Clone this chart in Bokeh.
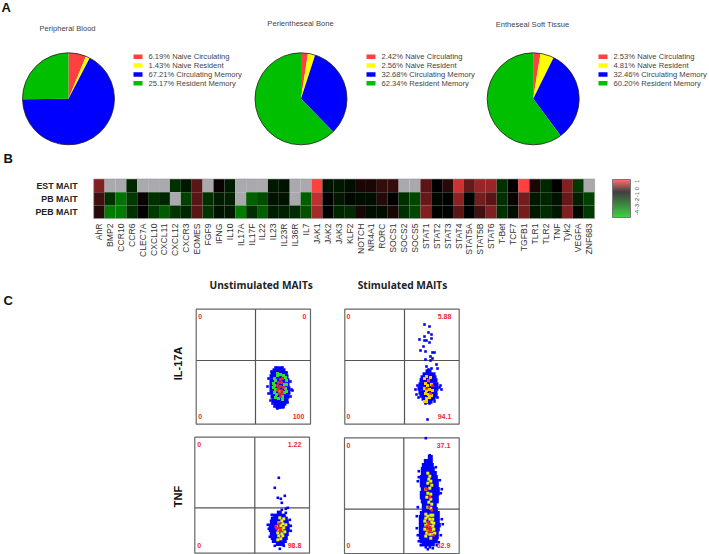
import math
import numpy as np
from bokeh.plotting import figure
from bokeh.models import Range1d, LinearColorMapper, ColumnDataSource
from bokeh.core.properties import value
from bokeh.embed import file_html
from bokeh.resources import INLINE

# ---- Panel A
subsets = ["Naive Circulating", "Naive Resident", "Circulating Memory", "Resident Memory"]
pie_colors = ["#ff4040", "#ffff00", "#0000ff", "#00bf00"]
pb_pct = [6.19, 1.43, 67.21, 25.17]
bone_pct = [2.42, 2.56, 32.68, 62.34]
soft_pct = [2.53, 4.81, 32.46, 60.20]
pie_titles = ["Peripheral Blood", "Perientheseal Bone", "Entheseal Soft Tissue"]

# ---- Panel B
genes = ["AhR","BMP2","CCR10","CCR6","CLEC7A","CXCL10","CXCL11","CXCL12","CXCR3","EOMES","FGF9","IFNG","IL10",
         "IL17A","IL17F","IL22","IL23","IL23R","IL36R","IL7","JAK1","JAK2","JAK3","KLF2","NOTCH","NR4A1","RORC",
         "SOCS1","SOCS2","SOCS5","STAT1","STAT2","STAT3","STAT4","STAT5A","STAT5B","STAT6","T-Bet","TCF7","TGFB1",
         "TLR1","TLR2","TNF","Tyk2","VEGFA","ZNF683"]
n = float("nan")
est_mait = [1.0,n,n,-.8,n,n,n,-1,-.5,.7,n,.1,-.6,n,n,n,-.5,-.4,n,n,2,-.4,-.5,-.3,.2,.2,.4,.4,n,n,.7,0,.3,1.6,.8,1.2,1.2,-1,0,2,.2,-.8,0,1,-1.2,n]
pb_mait = [.5,-1,-2.4,-1.2,.1,-1,-.8,n,-1.4,.7,-1,-.6,-.7,n,-2,-1.6,-.4,-.4,n,-2,1.5,0,-.5,-.2,-.3,-.3,.3,0,-1,-1.5,.8,-.2,-.1,1.1,-.1,.9,.7,-1,.1,.9,-.5,-.8,-.4,.8,-.7,-1.4]
peb_mait = [.3,-2.6,-2.6,-1,0,-1.2,-1.9,-1.1,-.8,.7,-1.1,-.4,-.5,-2.6,-1,-2,-.6,-.7,-.9,-1.7,1.3,-.1,-.8,-.9,.2,-.3,-.3,.2,-1,-1.5,1,-.1,-.1,.7,0,.5,1,-1,-.3,.9,-.5,-.9,-.5,1,-.2,-1.2]
heat_rows = ["EST MAIT", "PB MAIT", "PEB MAIT"]
scale_ticks = ["1", "0", "-1", "-2", "-3", "-4"]

# ---- Panel C: events as offsets (dx, dy) from each gate crossing; spans = (dy, dx0, dx1)
us17_span = [(8,20,27),(10,17,30),(13,15,32),(16,14,33),(20,14,34),(24,14,34),(28,14,35),(32,14,35),(36,15,34),(40,16,33),(43,18,31),(46,20,29)]
us17_blue = [(20,7),(27,7),(16,11),(31,12),(13,18),(35,21),(12,26),(36,29),(37,30),(13,33),(35,36),(15,40),(17,43),(32,42),(19,46),(24,47),(28,46),(22,48)]
us17_green = [(22,15),(25,14),(28,15),(30,17),(19,18),(20,20),(31,20),(18,23),(19,25),(29,24),(31,24),(18,27),(20,29),(30,28),(19,32),(21,34),(29,32),(31,31),(20,37),(23,38),(27,36),(24,31),(22,13),(27,39)]
us17_red = [(25,19),(27,18),(23,22),(26,22),(22,25),(25,26),(28,27),(23,28),(26,30),(24,33),(27,33),(25,36),(22,30)]

st17_span = [(11,21,27),(14,18,31),(17,16,32),(20,15,33),(24,14,34),(28,13,34),(32,14,33),(35,15,33),(38,17,31),(41,20,28)]
st17_blue = [(20,-36),(25,-34),(24,-28),(27,-26),(20,-24),(15,-21),(20,-20),(22,-20),(27,-22),(25,-18),(19,-14),(16,-10),(21,-9),(28,-8),(30,-8),(26,-4),(21,-1),(28,-2),(26,0),(32,4),(33,8),(22,6),(23,59),(24,9),(13,25),(11,29),(36,25),(35,27),(12,34),(37,29),(33,37),(14,37),(25,43),(21,43),(30,41),(27,8)]
st17_yellow = [(20,18),(22,16),(24,20),(26,17),(21,23),(23,25),(27,24),(20,28),(22,30),(25,29),(28,30),(21,33),(24,34),(27,35),(22,38),(25,37),(20,41),(22,41)]
st17_red = [(24,20),(28,25),(26,33),(22,28)]

usT_span = [(5,22,27),(8,18,31),(11,16,33),(14,15,34),(18,14,35),(22,14,35),(26,15,34),(30,16,33),(33,17,32),(36,21,30)]
usT_blue = [(24,-30),(20,-20),(23,-10),(26,-9),(30,-12),(27,-5),(27,2),(31,1),(33,0),(25,41),(13,17),(14,21),(36,18),(36,23),(29,38),(20,38),(31,5),(17,7),(35,12),(15,29)]
usT_yellow = [(25,10),(29,11),(27,13),(24,15),(28,16),(31,17),(26,18),(29,20),(22,19),(24,22),(27,22),(30,24),(23,25),(27,26),(24,28),(28,28),(26,31),(23,32)]
usT_red = [(21,19),(24,16),(24,20),(25,23),(26,22),(22,21)]

stT_span = [(-52,24,29),(-48,20,29),(-44,18,30),(-40,17,31),(-36,17,33),(-32,16,34),(-28,16,35),(-24,16,35),(-20,17,36),(-16,16,36),(-12,16,35),(-8,17,35),(-4,18,33),(0,18,34),(4,16,36),(8,15,36),(12,15,36),(16,15,37),(20,15,36),(24,15,35),(28,15,35),(32,16,34),(35,18,31)]
stT_blue = [(22,-71),(26,-54),(24,40),(26,38),(29,39),(14,-2),(37,-16),(38,-20),(14,-28),(36,-29),(13,7),(38,10),(39,15),(13,19),(14,26),(37,26),(15,32),(35,33),(22,38),(17,36),(33,36),(15,-38),(32,-42),(15,-32)]
stT_yellow = [(24,-36),(26,-33),(25,-30),(27,-28),(24,-26),(28,-24),(22,-20),(26,-21),(24,-16),(27,-15),(23,-12),(27,-10),(25,-7),(28,-5),(24,-2),(27,-1),(22,5),(24,7),(27,6),(29,6),(22,9),(26,10),(29,10),(21,12),(24,14),(28,13),(30,14),(22,16),(26,17),(29,17),(21,20),(24,21),(28,21),(30,20),(23,24),(26,25),(29,25),(31,24),(22,27),(27,29)]
stT_red = [(22,-20),(26,-12),(25,-2),(24,13),(25,15),(23,17),(26,18),(24,20),(27,21),(25,23),(30,26),(28,1)]

cd = ["Unstimulated MAITs", "Stimulated MAITs"]
markers = ["IL-17A", "TNF"]

# ---- figure in page pixels
p = figure(width=709, height=554, output_backend="svg", toolbar_location=None,
           x_range=Range1d(0, 709), y_range=Range1d(554, 0), min_border=0, outline_line_color=None)
p.axis.visible = False
p.grid.visible = False

def label(x, y, txt, size, color="#333333", font="Liberation Sans", style="normal", align="left", angle=0.0, baseline="middle"):
    p.text(x=[x], y=[y], text=[txt], text_font=value(font), text_font_size=f"{size}px", text_font_style=style,
           text_color=color, text_align=align, text_baseline=baseline, angle=angle)

# letters
for t, yy, xx in (("A", 7, 1), ("B", 157.5, 3), ("C", 300, 3)):
    label(xx, yy, t, 13, "#111111", style="bold")

# pies
pies = [(68, pb_pct, 133), (300.5, bone_pct, 366), (532.7, soft_pct, 598)]
pie_title_y = [28, 23, 24]
pie_title_x = [67, 300, 532]
for (cx, vals, lx), title, tx, ty in zip(pies, pie_titles, pie_title_x, pie_title_y):
    cum = np.cumsum([0] + vals) / 100 * 2 * math.pi
    start = math.pi / 2 - cum[:-1]
    end = math.pi / 2 - cum[1:]
    p.wedge(x=[cx] * 4, y=[98.3] * 4, radius=46, start_angle=start, end_angle=end, direction="clock",
            fill_color=pie_colors, line_color=None)
    p.circle(x=[cx], y=[98.3], radius=46, fill_color=None, line_color="#222222", line_width=0.8)
    label(tx, ty, title, 7.6, align="center", color="#444444")
    ly = [56.3, 65, 74, 82.7]
    p.rect(x=[lx + 4.5] * 4, y=ly, width=9, height=4.4, fill_color=pie_colors, line_color=None)
    for yy, v, s in zip(ly, vals, subsets):
        label(lx + 15, yy, f"{v:.2f}%  {s}", 7.6, color="#444444")

# heatmap
stops = np.array([-4, 0, 2.0])
def ramp(k):
    r = np.interp(k, stops, [0, 0, 255])
    g = np.interp(k, stops, [192, 0, 64])
    b = np.interp(k, stops, [0, 0, 64])
    return "#%02x%02x%02x" % (int(r), int(g), int(b))
palette = [ramp(k) for k in np.linspace(-4, 2, 256)]
mapper = LinearColorMapper(palette=palette, low=-4, high=2, nan_color="#a9a9ae")
hx0, cw, hy0, ch = 93.2, 10.89, 178.5, 13.2
xs, ys, vs = [], [], []
for r, row in enumerate([est_mait, pb_mait, peb_mait]):
    for c, v in enumerate(row):
        xs.append(hx0 + cw * (c + .5)); ys.append(hy0 + ch * (r + .5)); vs.append(v)
p.rect(x="x", y="y", width=cw, height=ch, source=ColumnDataSource(dict(x=xs, y=ys, v=vs)),
       fill_color={"field": "v", "transform": mapper}, line_color=None)
p.quad(left=[hx0], right=[hx0 + cw * 46], top=[hy0], bottom=[hy0 + ch * 3], fill_color=None, line_color="#999999", line_width=0.6)
for i, t in enumerate(heat_rows):
    label(77, hy0 + ch * (i + .5), t, 8.8, "#222222", style="bold", align="right")
for i, g in enumerate(genes):
    label(hx0 + cw * (i + .5), 223, g, 8.6, "#333333", align="right", angle=math.pi / 2)

# colour scale
sv = np.linspace(2, -4, 38)
p.rect(x=[621] * 38, y=[179.5 + i for i in range(38)], width=18, height=1.2,
       fill_color=[ramp(k) for k in sv], line_color=None)
p.quad(left=[612], right=[630], top=[179], bottom=[217], fill_color=None, line_color="#777777", line_width=1)
for t, yy in zip(scale_ticks, [181, 188, 194, 200, 206, 212]):
    label(636, yy, t, 5.5, "#333333", align="center", angle=math.pi / 2)

# flow panels
panels = [
    ((195.7, 310, 308.7, 423.7), (255, 360), us17_span, us17_blue, us17_green, "#30e030", us17_red, "#ff3010",
     [("0", 199.7, 316, "center"), ("0", 304, 316, "center"), ("0", 199.7, 416, "center"), ("100", 298, 416, "center")]),
    ((344.3, 458.7, 308.7, 423.7), (404, 360), st17_span, st17_blue, st17_yellow, "#ffd000", st17_red, "#ff2020",
     [("0", 348, 316, "center"), ("5.88", 444, 316, "center"), ("0", 348, 416, "center"), ("94.1", 444, 416, "center")]),
    ((194.3, 309, 436.7, 552.7), (254.3, 507.3), usT_span, usT_blue, usT_yellow, "#f0f000", usT_red, "#ff2020",
     [("0", 198.7, 444.3, "center"), ("1.22", 294, 444.3, "center"), ("0", 198.7, 544.7, "center"), ("98.8", 294, 544.7, "center")]),
    ((344, 458.7, 437.3, 553), (403.3, 508.7), stT_span, stT_blue, stT_yellow, "#f0f000", stT_red, "#ff2020",
     [("0", 348, 445, "center"), ("37.1", 443, 445, "center"), ("0", 348, 545, "center"), ("62.9", 443, 545, "center")]),
]
for (l, r, t, b), (cx, cy), span, blue, mid, midc, red, redc, nums in panels:
    p.quad(left=[l], right=[r], top=[t], bottom=[b], fill_color=None, line_color="#666666", line_width=1.2)
    p.segment(x0=[cx, l], y0=[t, cy], x1=[cx, r], y1=[b, cy], line_color="#555555", line_width=1.2)
    p.hbar(y=[cy + s[0] for s in span], left=[cx + s[1] for s in span], right=[cx + s[2] for s in span],
           height=4.4, fill_color="#0000ff", line_color=None)
    for pts, col, sz in ((blue, "#0000ff", 2.6), (mid, midc, 3), (red, redc, 2.6)):
        p.scatter(x=[cx + q[0] for q in pts], y=[cy + q[1] for q in pts], size=sz, marker="square",
                  fill_color=col, line_color=None)
    for txt, x, y, al in nums:
        label(x, y, txt, 7, "#ee2a2a", style="bold", align=al)

label(260.7, 284, cd[0], 10.2, "#222222", font="Open Sans", style="bold", align="center")
label(402, 284, cd[1], 10.2, "#222222", font="Open Sans", style="bold", align="center")
label(177.7, 363, markers[0], 11, "#111111", style="bold", align="center", angle=math.pi / 2)
label(177, 496, markers[1], 11, "#111111", style="bold", align="center", angle=math.pi / 2)

open("out.html", "w").write(file_html(p, INLINE))
